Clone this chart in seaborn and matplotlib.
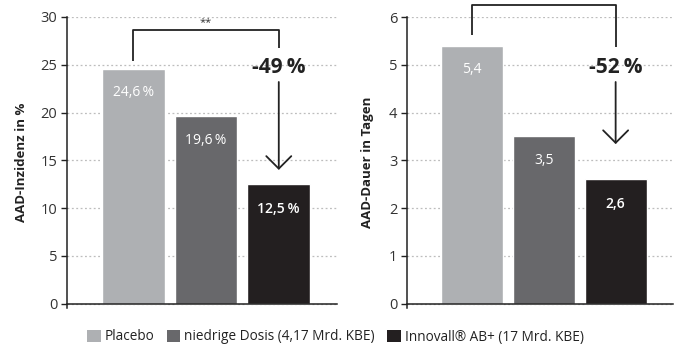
import matplotlib
matplotlib.use("Agg")
import matplotlib.pyplot as plt
import seaborn as sns
from matplotlib.patches import Patch

# Study groups and results
groups = ["Placebo", "niedrige Dosis (4,17 Mrd. KBE)", "Innovall\u00ae AB+ (17 Mrd. KBE)"]
incidence = [24.6, 19.6, 12.5]          # AAD incidence in %
incidence_labels = ["24,6\u2009%", "19,6\u2009%", "12,5\u2009%"]
duration = [5.4, 3.5, 2.6]              # AAD duration in days
duration_labels = ["5,4", "3,5", "2,6"]
reduction_incidence = "-49\u2009%"
reduction_duration = "-52\u2009%"
significance = "**"

colors = ["#aeb0b3", "#68686b", "#231f20"]
label_colors = ["#ffffff", "#ffffff", "#ffffff"]
label_weights = ["normal", "normal", "semibold"]

sns.set_theme(style="white")
plt.rcParams["font.family"] = ["Open Sans", "DejaVu Sans"]
plt.rcParams["text.color"] = "#222222"

W, H = 675, 351
fig = plt.figure(figsize=(W / 100, H / 100), dpi=100)


def px_axes(x0, x1, ytop, ybot):
    return fig.add_axes([x0 / W, 1 - ybot / H, (x1 - x0) / W, (ybot - ytop) / H])


ax1 = px_axes(67, 337, 17, 308)
ax2 = px_axes(407, 673, 17, 308)


def style_axis(ax, ymax, step, ylabel, pad):
    ax.set_xlim(-0.91, 2.8)
    ax.set_ylim(-ymax * 0.015, ymax)
    ax.set_yticks([i * step for i in range(int(ymax / step) + 1)])
    ax.set_xticks([])
    ax.set_xlabel("")
    ax.set_ylabel(ylabel, fontsize=9.5, fontweight="bold", labelpad=pad, color="#222222")
    for s in ["top", "right"]:
        ax.spines[s].set_visible(False)
    ax.spines["bottom"].set_position(("data", 0))
    for s in ["left", "bottom"]:
        ax.spines[s].set_color("#222222")
        ax.spines[s].set_linewidth(1.1)
    ax.tick_params(axis="y", left=True, length=4, width=1, color="#222222",
                   labelsize=10.5, labelcolor="#333333", pad=3)
    ax.yaxis.grid(True, linestyle=(0, (1.5, 2)), color="#bdbdbd", linewidth=0.9)
    ax.set_axisbelow(True)


def draw_bars(ax, values, labels):
    sns.barplot(x=groups, y=values, hue=groups, palette=colors, legend=False,
                width=0.863, saturation=1, ax=ax, zorder=2)
    for i, (v, lab) in enumerate(zip(values, labels)):
        ax.annotate(lab, xy=(i, v), xytext=(0, -17.5), textcoords="offset points",
                    ha="center", va="center", fontsize=10, color=label_colors[i],
                    fontweight=label_weights[i], zorder=3)


def draw_bracket(ax, y_line, y_left, y_right_end, y_text, y_arrow_start, y_arrow_end, text):
    kw = dict(color="#222222", lw=1.3, clip_on=False, zorder=4, solid_capstyle="butt")
    ax.plot([0, 0, 2, 2], [y_left, y_line, y_line, y_right_end], **kw)
    ax.text(2, y_text, text, ha="center", va="center", fontsize=15,
            fontweight="bold", color="#222222", zorder=4)
    ax.annotate("", xy=(2, y_arrow_end), xytext=(2, y_arrow_start),
                arrowprops=dict(arrowstyle="->,head_length=0.75,head_width=0.75",
                                color="#222222", lw=1.3, shrinkA=0, shrinkB=0),
                annotation_clip=False, zorder=4)


draw_bars(ax1, incidence, incidence_labels)
style_axis(ax1, 30, 5, "AAD-Inzidenz in %", 9)
draw_bracket(ax1, 28.66, 25.4, 26.8, 24.7, 23.2, 14.0, reduction_incidence)
ax1.text(1, 29.4, significance, ha="center", va="center", fontsize=8, color="#333333")

draw_bars(ax2, duration, duration_labels)
style_axis(ax2, 6, 1, "AAD-Dauer in Tagen", 11)
draw_bracket(ax2, 6.25, 5.63, 5.37, 4.95, 4.64, 3.34, reduction_duration)

handles = [Patch(facecolor=c, edgecolor="none") for c in colors]
fig.legend(handles, groups, loc="center", bbox_to_anchor=(0.497, 14 / H), ncol=3,
           frameon=False, fontsize=9.8, handlelength=1.0, handleheight=1.0,
           handletextpad=0.3, columnspacing=0.9, labelcolor="#222222")

fig.savefig("out.png", dpi=100)
